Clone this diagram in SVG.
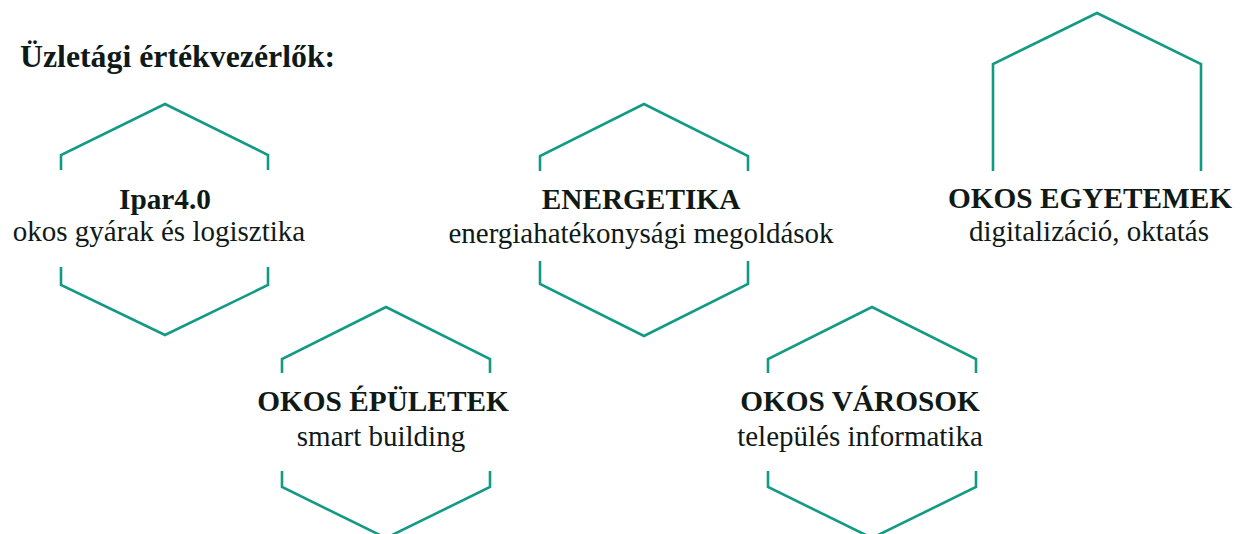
<svg xmlns="http://www.w3.org/2000/svg" width="1240" height="534" viewBox="0 0 1240 534">
<style>
.hex{fill:none;stroke:#139a84;stroke-width:2.6;stroke-linejoin:miter}
text{font-family:'Liberation Serif','Times New Roman',serif;fill:#0f1a17;text-anchor:middle}
.b{font-weight:bold;font-size:29.3px}
.r{font-weight:normal;font-size:29px}
</style>
<rect width="1240" height="534" fill="#fff"/>
<text x="20" y="67" font-weight="bold" font-size="31.8" style="text-anchor:start">Üzletági értékvezérlők:</text>
<g id="ipar">
<polyline class="hex" points="61,170 61,155 165,104 268,155 268,170"/>
<polyline class="hex" points="61,267 61,285 165,335 268,285 268,267"/>
<text x="165" y="209" class="b">Ipar4.0</text>
<text x="159" y="241" class="r">okos gyárak és logisztika</text>
</g>
<g id="energetika">
<polyline class="hex" points="540,171 540,156 644,104 748,156 748,171"/>
<polyline class="hex" points="540,261 540,284 644,336 748,284 748,261"/>
<text x="641" y="209" class="b">ENERGETIKA</text>
<text x="641" y="243" class="r">energiahatékonysági megoldások</text>
</g>
<g id="egyetemek">
<polyline class="hex" points="993,171 993,64 1097,13 1201,64 1201,171"/>
<text x="1090" y="208" class="b">OKOS EGYETEMEK</text>
<text x="1089" y="241" class="r">digitalizáció, oktatás</text>
</g>
<g id="epuletek">
<polyline class="hex" points="282,373 282,359 386,307 490,359 490,373"/>
<polyline class="hex" points="282,471 282,487 386,538 490,487 490,471"/>
<text x="383" y="411" class="b">OKOS ÉPÜLETEK</text>
<text x="381" y="446" class="r">smart building</text>
</g>
<g id="varosok">
<polyline class="hex" points="768,373 768,359 872,307 976,359 976,373"/>
<polyline class="hex" points="768,471 768,487 872,538 976,487 976,471"/>
<text x="860" y="411" class="b">OKOS VÁROSOK</text>
<text x="860" y="446" class="r">település informatika</text>
</g>
<g id="connectors"/>
</svg>
